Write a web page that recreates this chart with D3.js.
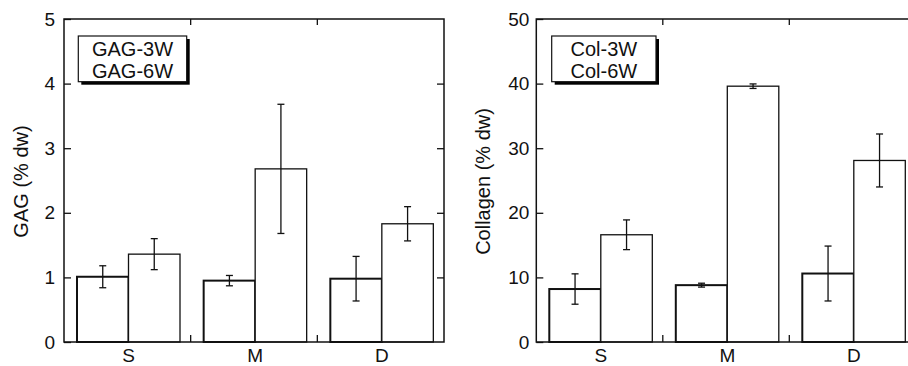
<!DOCTYPE html>
<html><head><meta charset="utf-8">
<script src="https://cdn.jsdelivr.net/npm/d3@7"></script>
<style>
body{margin:0;background:#fff;}
svg{display:block;font-family:"Liberation Sans",Arial,Helvetica,sans-serif;}
</style></head>
<body><svg id="chart" width="908" height="366"></svg>
<script>
const categories = ["S", "M", "D"];
const gagSeries = ["GAG-3W", "GAG-6W"];
const gag3W = [1.01, 0.95, 0.98];
const gag3WErr = [0.17, 0.08, 0.345];
const gag6W = [1.36, 2.68, 1.83];
const gag6WErr = [0.24, 1.0, 0.265];
const gagTicks = [0, 1, 2, 3, 4, 5];

const colSeries = ["Col-3W", "Col-6W"];
const col3W = [8.2, 8.8, 10.6];
const col3WErr = [2.35, 0.3, 4.25];
const col6W = [16.6, 39.6, 28.1];
const col6WErr = [2.3, 0.35, 4.1];
const colTicks = [0, 10, 20, 30, 40, 50];

const svg = d3.select("#chart");

function panel(cfg) {
  const g = svg.append("g").attr("transform", `translate(${cfg.left},${cfg.top})`);
  const W = cfg.width, H = cfg.height;
  const x0 = d3.scaleBand().domain(categories).range([0, W]);
  const x1 = d3.scaleBand().domain(cfg.series).range([13, 116]);
  const y = d3.scaleLinear().domain([cfg.ticks[0], cfg.ticks[cfg.ticks.length - 1]]).range([H, 0]);

  const data = [];
  categories.forEach((c, i) => {
    data.push({cat: c, s: cfg.series[0], v: cfg.v3[i], e: cfg.e3[i], heavy: true});
    data.push({cat: c, s: cfg.series[1], v: cfg.v6[i], e: cfg.e6[i], heavy: false});
  });

  // bars
  g.selectAll("rect.bar").data(data).join("rect")
    .attr("class", "bar")
    .attr("x", d => x0(d.cat) + x1(d.s))
    .attr("y", d => y(d.v))
    .attr("width", x1.bandwidth())
    .attr("height", d => H - y(d.v))
    .attr("fill", "#fff")
    .attr("stroke", "#111")
    .attr("stroke-width", d => d.heavy ? 2 : 1.3);

  // error bars
  const eg = g.selectAll("g.err").data(data).join("g").attr("class", "err")
    .attr("transform", d => `translate(${x0(d.cat) + x1(d.s) + x1.bandwidth() / 2},0)`);
  eg.append("line").attr("x1", 0).attr("x2", 0)
    .attr("y1", d => y(d.v + d.e)).attr("y2", d => y(d.v - d.e))
    .attr("stroke", "#111").attr("stroke-width", 1.3);
  eg.append("line").attr("x1", -3.5).attr("x2", 3.5)
    .attr("y1", d => y(d.v + d.e)).attr("y2", d => y(d.v + d.e))
    .attr("stroke", "#111").attr("stroke-width", 1.3);
  eg.append("line").attr("x1", -3.5).attr("x2", 3.5)
    .attr("y1", d => y(d.v - d.e)).attr("y2", d => y(d.v - d.e))
    .attr("stroke", "#111").attr("stroke-width", 1.3);

  // left axis
  const ya = g.append("g").call(d3.axisLeft(y).tickValues(cfg.ticks).tickFormat(d3.format("d"))
    .tickSizeInner(-7).tickSizeOuter(0).tickPadding(cfg.tickPad));
  ya.select(".domain").remove();
  ya.selectAll("line").attr("stroke", "#111").attr("stroke-width", 1.3);
  ya.selectAll("text").style("font-size", "19px").attr("fill", "#111").attr("font-family", null);
  // right axis ticks (inward)
  const yr = g.append("g").attr("transform", `translate(${W},0)`)
    .call(d3.axisRight(y).tickValues(cfg.ticks.slice(1, -1)).tickSizeInner(-7).tickSizeOuter(0).tickFormat(""));
  yr.select(".domain").remove();
  yr.selectAll("line").attr("stroke", "#111").attr("stroke-width", 1.3);

  // category labels
  const xa = g.append("g").attr("transform", `translate(0,${H})`)
    .call(d3.axisBottom(x0).tickSize(0).tickPadding(0));
  xa.select(".domain").remove();
  xa.selectAll(".tick text")
    .attr("x", x1.range()[0] + x1.bandwidth() - x0.bandwidth() / 2)
    .attr("y", 20).attr("dy", 0)
    .style("font-size", "19px").attr("fill", "#111").attr("font-family", null);

  // group divider ticks top & bottom
  const divs = categories.slice(1);
  g.selectAll("line.divb").data(divs).join("line").attr("class", "divb")
    .attr("x1", d => x0(d)).attr("x2", d => x0(d)).attr("y1", H).attr("y2", H - 7)
    .attr("stroke", "#111").attr("stroke-width", 1.3);
  g.selectAll("line.divt").data(divs).join("line").attr("class", "divt")
    .attr("x1", d => x0(d)).attr("x2", d => x0(d)).attr("y1", 0).attr("y2", 6)
    .attr("stroke", "#111").attr("stroke-width", 1.3);

  // frame
  g.append("rect").attr("x", 0).attr("y", 0).attr("width", W).attr("height", H)
    .attr("fill", "none").attr("stroke", "#111").attr("stroke-width", 1.5);

  // legend
  const lg = g.append("g").attr("transform", `translate(${cfg.legX},${cfg.legY})`);
  lg.append("rect").attr("x", 3).attr("y", 3).attr("width", cfg.legW).attr("height", 45.7).attr("fill", "#000");
  lg.append("rect").attr("x", 0).attr("y", 0).attr("width", cfg.legW).attr("height", 45.7)
    .attr("fill", "#fff").attr("stroke", "#111").attr("stroke-width", 1.2);
  lg.selectAll("text").data(cfg.series).join("text")
    .attr("x", cfg.legW / 2).attr("y", (d, i) => 20 + i * 21.6)
    .attr("text-anchor", "middle").style("font-size", "20px").attr("fill", "#111")
    .text(d => d);

  // y title
  svg.append("text")
    .attr("transform", `translate(${cfg.titleX},${cfg.top + H / 2 + 1}) rotate(-90)`)
    .attr("text-anchor", "middle").style("font-size", "20px").attr("fill", "#111")
    .text(cfg.title);
}

panel({left: 64, top: 19, width: 380, height: 323, series: gagSeries,
  v3: gag3W, e3: gag3WErr, v6: gag6W, e6: gag6WErr, ticks: gagTicks, tickPad: 9,
  legX: 14.3, legY: 17, legW: 108.4, title: "GAG (% dw)", titleX: 28.3});

panel({left: 536.3, top: 19, width: 379.5, height: 323, series: colSeries,
  v3: col3W, e3: col3WErr, v6: col6W, e6: col6WErr, ticks: colTicks, tickPad: 7,
  legX: 15.4, legY: 17, legW: 104.3, title: "Collagen (% dw)", titleX: 490});
</script>
</body></html>
